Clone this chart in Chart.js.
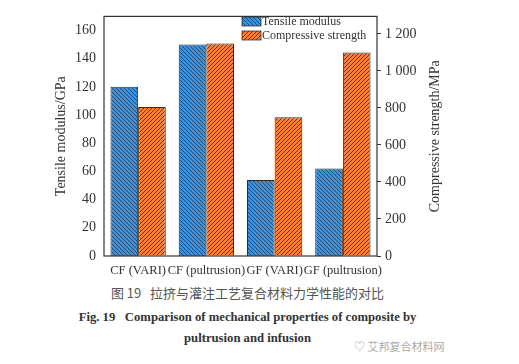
<!DOCTYPE html>
<html>
<head>
<meta charset="utf-8">
<script src="https://cdn.jsdelivr.net/npm/chart.js@4/dist/chart.umd.min.js"></script>
<style>
  html, body { margin: 0; padding: 0; background: #fff; }
  body { width: 519px; height: 364px; position: relative; overflow: hidden; }
  #wrap { position: absolute; left: 0; top: 0; width: 519px; height: 280px; }
  .cap { position: absolute; left: 0; width: 495px; text-align: center; white-space: nowrap; }
  #cn { top: 283px; font-family: "Noto Sans CJK SC", sans-serif; font-size: 13px; color: #555; }
  #en1 { top: 310px; font-family: "Liberation Serif", serif; font-weight: bold; font-size: 12.7px; color: #333; }
  #en2 { top: 331px; font-family: "Liberation Serif", serif; font-weight: bold; font-size: 12.7px; color: #333; }
  #wm { position: absolute; left: 354px; top: 338px; font-family: "Noto Sans CJK SC", sans-serif; font-size: 11px; color: #aaa; }
</style>
</head>
<body>
<div id="wrap"><canvas id="c" width="519" height="280"></canvas></div>
<div class="cap" id="cn">图 19&nbsp;&nbsp;&nbsp;拉挤与灌注工艺复合材料力学性能的对比</div>
<div class="cap" id="en1">Fig. 19&nbsp;&nbsp;&nbsp;Comparison of mechanical properties of composite by</div>
<div class="cap" id="en2">pultrusion and infusion</div>
<div id="wm">&#9825; 艾邦复合材料网</div>
<script>
const categories = ['CF (VARI)', 'CF (pultrusion)', 'GF (VARI)', 'GF (pultrusion)'];
const tensileModulus = [120, 150, 54, 62];          // GPa
const compressiveStrength = [805, 1148, 750, 1100]; // MPa
const leftTicks = [0, 20, 40, 60, 80, 100, 120, 140, 160];
const rightTicks = [0, 200, 400, 600, 800, 1000, 1200];

function hatch(base, line, dir) {
  const s = 4;
  const p = document.createElement('canvas');
  p.width = s; p.height = s;
  const g = p.getContext('2d');
  g.fillStyle = base;
  g.fillRect(0, 0, s, s);
  g.strokeStyle = line;
  g.lineWidth = 0.9;
  g.beginPath();
  if (dir > 0) {
    g.moveTo(0, s); g.lineTo(s, 0);
    g.moveTo(-1, 1); g.lineTo(1, -1);
    g.moveTo(s - 1, s + 1); g.lineTo(s + 1, s - 1);
  } else {
    g.moveTo(0, 0); g.lineTo(s, s);
    g.moveTo(-1, s - 1); g.lineTo(1, s + 1);
    g.moveTo(s - 1, -1); g.lineTo(s + 1, 1);
  }
  g.stroke();
  return document.getElementById('c').getContext('2d').createPattern(p, 'repeat');
}

const bluePat = hatch('#3592e4', '#234669', -1);
const orangePat = hatch('#fb7d38', '#5a331f', 1);
const serif = 'Liberation Serif';

const legendInside = {
  id: 'legendInside',
  afterDraw(chart) {
    const ctx = chart.ctx;
    const items = [['Tensile modulus', bluePat], ['Compressive strength', orangePat]];
    ctx.save();
    ctx.font = '12px ' + serif;
    ctx.textBaseline = 'middle';
    items.forEach((it, i) => {
      const y = 17 + i * 14;
      ctx.fillStyle = it[1];
      ctx.fillRect(242, y, 19, 9);
      ctx.strokeStyle = '#333';
      ctx.lineWidth = 0.8;
      ctx.strokeRect(242, y, 19, 9);
      ctx.fillStyle = '#333';
      ctx.fillText(it[0], 262, y + 4.5);
    });
    ctx.restore();
  }
};

// frame around the plot + right-axis title read bottom to top
const frame = {
  id: 'frame',
  afterDraw(chart) {
    const a = chart.chartArea;
    const ctx = chart.ctx;
    ctx.save();
    ctx.strokeStyle = '#333';
    ctx.lineWidth = 1.2;
    ctx.strokeRect(a.left, a.top, a.right - a.left, a.bottom - a.top);
    ctx.translate(435, (a.top + a.bottom) / 2);
    ctx.rotate(-Math.PI / 2);
    ctx.font = '14px ' + serif;
    ctx.fillStyle = '#333';
    ctx.textAlign = 'center';
    ctx.textBaseline = 'middle';
    ctx.fillText('Compressive strength/MPa', 0, 0);
    ctx.restore();
  }
};

new Chart(document.getElementById('c'), {
  type: 'bar',
  data: {
    labels: categories,
    datasets: [
      { label: 'Tensile modulus', data: tensileModulus, yAxisID: 'y',
        backgroundColor: bluePat, borderColor: '#2b2b2b', borderWidth: 1,
        categoryPercentage: 0.81, barPercentage: 1.0 },
      { label: 'Compressive strength', data: compressiveStrength, yAxisID: 'y1',
        backgroundColor: orangePat, borderColor: '#2b2b2b', borderWidth: 1,
        categoryPercentage: 0.81, barPercentage: 1.0 }
    ]
  },
  options: {
    responsive: false,
    animation: false,
    layout: { padding: { top: 10, left: 0, right: 0, bottom: 0 } },
    plugins: { legend: { display: false }, tooltip: { enabled: false } },
    scales: {
      x: {
        grid: { display: false, drawTicks: false },
        border: { display: false },
        ticks: { color: '#333', font: { family: serif, size: 12.5 }, padding: 7, maxRotation: 0, autoSkip: false },
        afterFit(s) { s.height = 24; }
      },
      y: {
        position: 'left', min: 0, max: 170,
        afterBuildTicks(s) { s.ticks = leftTicks.map(v => ({ value: v })); },
        grid: { display: false, drawTicks: false },
        border: { display: false },
        ticks: { color: '#333', font: { family: serif, size: 14 }, padding: 8 },
        title: { display: true, text: 'Tensile modulus/GPa', color: '#333', font: { family: serif, size: 14 }, padding: { top: 53, bottom: 0 } },
        afterFit(s) { s.width = 104; }
      },
      y1: {
        position: 'right', min: 0, max: 1295,
        afterBuildTicks(s) { s.ticks = rightTicks.map(v => ({ value: v })); },
        grid: { display: true, drawOnChartArea: false, drawTicks: true, tickLength: 4, color: '#333' },
        border: { display: false },
        ticks: { color: '#333', font: { family: serif, size: 14 }, padding: 4,
          callback: v => v >= 1000 ? String(v).replace(/(\d)(\d{3})$/, '$1 $2') : String(v) },
        afterFit(s) { s.width = 142; }
      }
    }
  },
  plugins: [frame, legendInside]
});
</script>
</body>
</html>
